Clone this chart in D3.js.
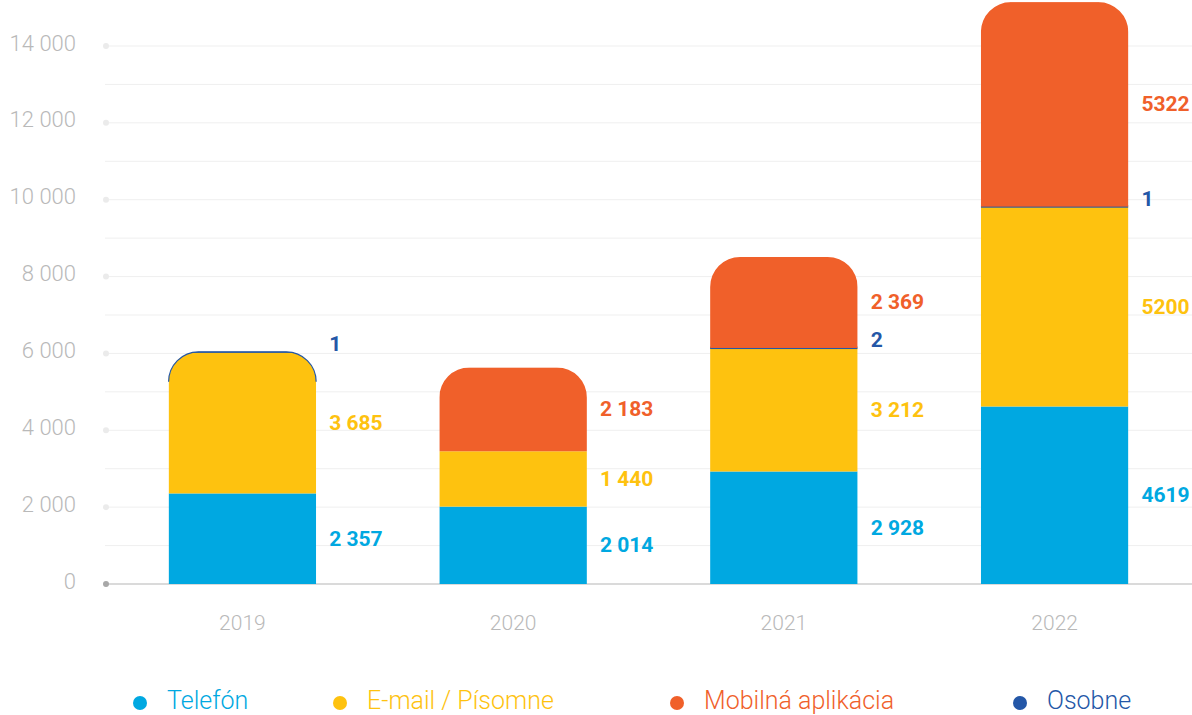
<!DOCTYPE html>
<html>
<head>
<meta charset="utf-8">
<script src="https://cdn.jsdelivr.net/npm/d3@7"></script>
<style>
  html, body { margin: 0; padding: 0; background: #fff; }
  svg { display: block; font-family: Roboto, "Noto Sans", sans-serif; }
</style>
</head>
<body>
<svg id="chart" width="1192" height="715"></svg>
<script>
// Contacts by channel per year (stacked bottom to top: Telefón, E-mail, Osobne, Mobilná)
const years = ["2019", "2020", "2021", "2022"];
const telefon = [2357, 2014, 2928, 4619];
const email   = [3685, 1440, 3212, 5200];
const osobne  = [1, 0, 2, 1];
const mobilna = [0, 2183, 2369, 5322];
// whether the year's value labels use a digit-group space
const groupedLabels = [true, true, true, false];
const yTicks = [0, 2000, 4000, 6000, 8000, 10000, 12000, 14000];

const seriesNames = ["Telefón", "E-mail / Písomne", "Osobne", "Mobilná aplikácia"];
const seriesKeys  = ["telefon", "email", "osobne", "mobilna"];
const colors = {
  telefon: "#00a8e1",
  email:   "#fec20f",
  osobne:  "#2457a7",
  mobilna: "#f0602a"
};
const legendOrder = ["telefon", "email", "mobilna", "osobne"];
const legendX = [140, 340, 677, 1020];

const rows = years.map((yr, i) => ({
  year: yr,
  telefon: telefon[i], email: email[i], osobne: osobne[i], mobilna: mobilna[i]
}));

const W = 1192, H = 715;
const svg = d3.select("#chart");

const y = d3.scaleLinear().domain([0, 14000]).range([584, 46]);
const x = d3.scaleBand().domain(years).range([107, 1190])
  .paddingInner(0.455).paddingOuter(0.2275);

const loc = d3.formatLocale({ decimal: ",", thousands: "\u00a0", grouping: [3], currency: ["", " €"] });
const fmtGroup = loc.format(",d");
const fmtPlain = d3.format("d");

// grid: major lines every 2000 with a dot, minor lines in between
const grid = svg.append("g");
d3.range(1000, 14001, 1000).forEach(v => {
  grid.append("line")
    .attr("x1", 105).attr("x2", W)
    .attr("y1", y(v)).attr("y2", y(v))
    .attr("stroke", "#efefef").attr("stroke-width", 1);
});
grid.selectAll("circle.tick").data(yTicks.filter(v => v > 0)).join("circle")
  .attr("cx", 106).attr("cy", d => y(d)).attr("r", 3).attr("fill", "#ebebeb");

// baseline
grid.append("line")
  .attr("x1", 105).attr("x2", W).attr("y1", y(0)).attr("y2", y(0))
  .attr("stroke", "#b5b5b5").attr("stroke-width", 1);
grid.append("circle").attr("cx", 106).attr("cy", y(0)).attr("r", 3).attr("fill", "#a8a8a8");

// y tick labels
svg.append("g").selectAll("text").data(yTicks).join("text")
  .attr("x", 76).attr("y", d => y(d) - 3)
  .attr("text-anchor", "end").attr("dominant-baseline", "central")
  .attr("font-size", 22).attr("font-weight", 300).attr("fill", "#b9b9b9")
  .text(d => fmtGroup(d));

// year labels
svg.append("g").selectAll("text").data(years).join("text")
  .attr("x", d => x(d) + x.bandwidth() / 2).attr("y", 630)
  .attr("text-anchor", "middle")
  .attr("font-size", 21).attr("font-weight", 300).attr("fill", "#b9b9b9")
  .text(d => d);

// stacked bars
const stack = d3.stack().keys(seriesKeys);
const stacked = stack(rows);
const R = 30;

function roundedTop(x0, x1, yTop, yBot, r) {
  const rr = Math.min(r, (x1 - x0) / 2);
  return `M${x0},${yBot} L${x0},${yTop + rr} A${rr},${rr} 0 0 1 ${x0 + rr},${yTop}` +
         ` L${x1 - rr},${yTop} A${rr},${rr} 0 0 1 ${x1},${yTop + rr} L${x1},${yBot} Z`;
}
function topEdge(x0, x1, yTop, r) {
  const rr = Math.min(r, (x1 - x0) / 2);
  return `M${x0},${yTop + rr} A${rr},${rr} 0 0 1 ${x0 + rr},${yTop}` +
         ` L${x1 - rr},${yTop} A${rr},${rr} 0 0 1 ${x1},${yTop + rr}`;
}

const defs = svg.append("defs");
const bars = svg.append("g");
const labels = svg.append("g");

rows.forEach((row, i) => {
  const x0 = x(row.year), x1 = x0 + x.bandwidth();
  const total = seriesKeys.reduce((s, k) => s + row[k], 0);
  const yTop = y(total), yBot = y(0);
  const clipId = "clip-" + i;
  defs.append("clipPath").attr("id", clipId)
    .append("path").attr("d", roundedTop(x0, x1, yTop, yBot, R));

  const g = bars.append("g").attr("clip-path", `url(#${clipId})`);
  let topKey = null;
  stacked.forEach(layer => {
    const k = layer.key;
    const [lo, hi] = layer[i];
    if (hi - lo <= 0) return;
    topKey = k;
    let yy = y(hi), hh = y(lo) - y(hi);
    if (hh < 2.5) { yy = y(lo) - 1.5; hh = 2.5; }
    g.append("rect")
      .attr("x", x0).attr("y", yy).attr("width", x1 - x0).attr("height", hh)
      .attr("fill", colors[k]);
  });
  // a sliver on top of the stack follows the rounded outline
  const topLayer = stacked.find(l => l.key === topKey);
  const [tlo, thi] = topLayer[i];
  if (y(tlo) - y(thi) < 2.5) {
    bars.append("path").attr("d", topEdge(x0, x1, yTop, R))
      .attr("fill", "none").attr("stroke", colors[topKey]).attr("stroke-width", 1.2);
  }

  // value labels to the right of the bar
  const fmt = groupedLabels[i] ? fmtGroup : fmtPlain;
  stacked.forEach(layer => {
    const k = layer.key;
    const [lo, hi] = layer[i];
    if (hi - lo <= 0) return;
    const small = (y(lo) - y(hi)) < 10;
    const ly = small ? y(lo) - 8 : (y(lo) + y(hi)) / 2;
    labels.append("text")
      .attr("x", x1 + 13).attr("y", ly)
      .attr("dominant-baseline", "central")
      .attr("font-size", 21).attr("font-weight", 700)
      .attr("fill", colors[k])
      .text(fmt(hi - lo));
  });
});

// legend
const legend = svg.append("g");
legendOrder.forEach((k, j) => {
  const gx = legendX[j];
  legend.append("circle").attr("cx", gx).attr("cy", 703).attr("r", 7).attr("fill", colors[k]);
  legend.append("text")
    .attr("x", gx + 27).attr("y", 709)
    .attr("font-size", 25).attr("font-weight", 300)
    .attr("fill", colors[k])
    .text(seriesNames[seriesKeys.indexOf(k)]);
});
</script>
</body>
</html>
